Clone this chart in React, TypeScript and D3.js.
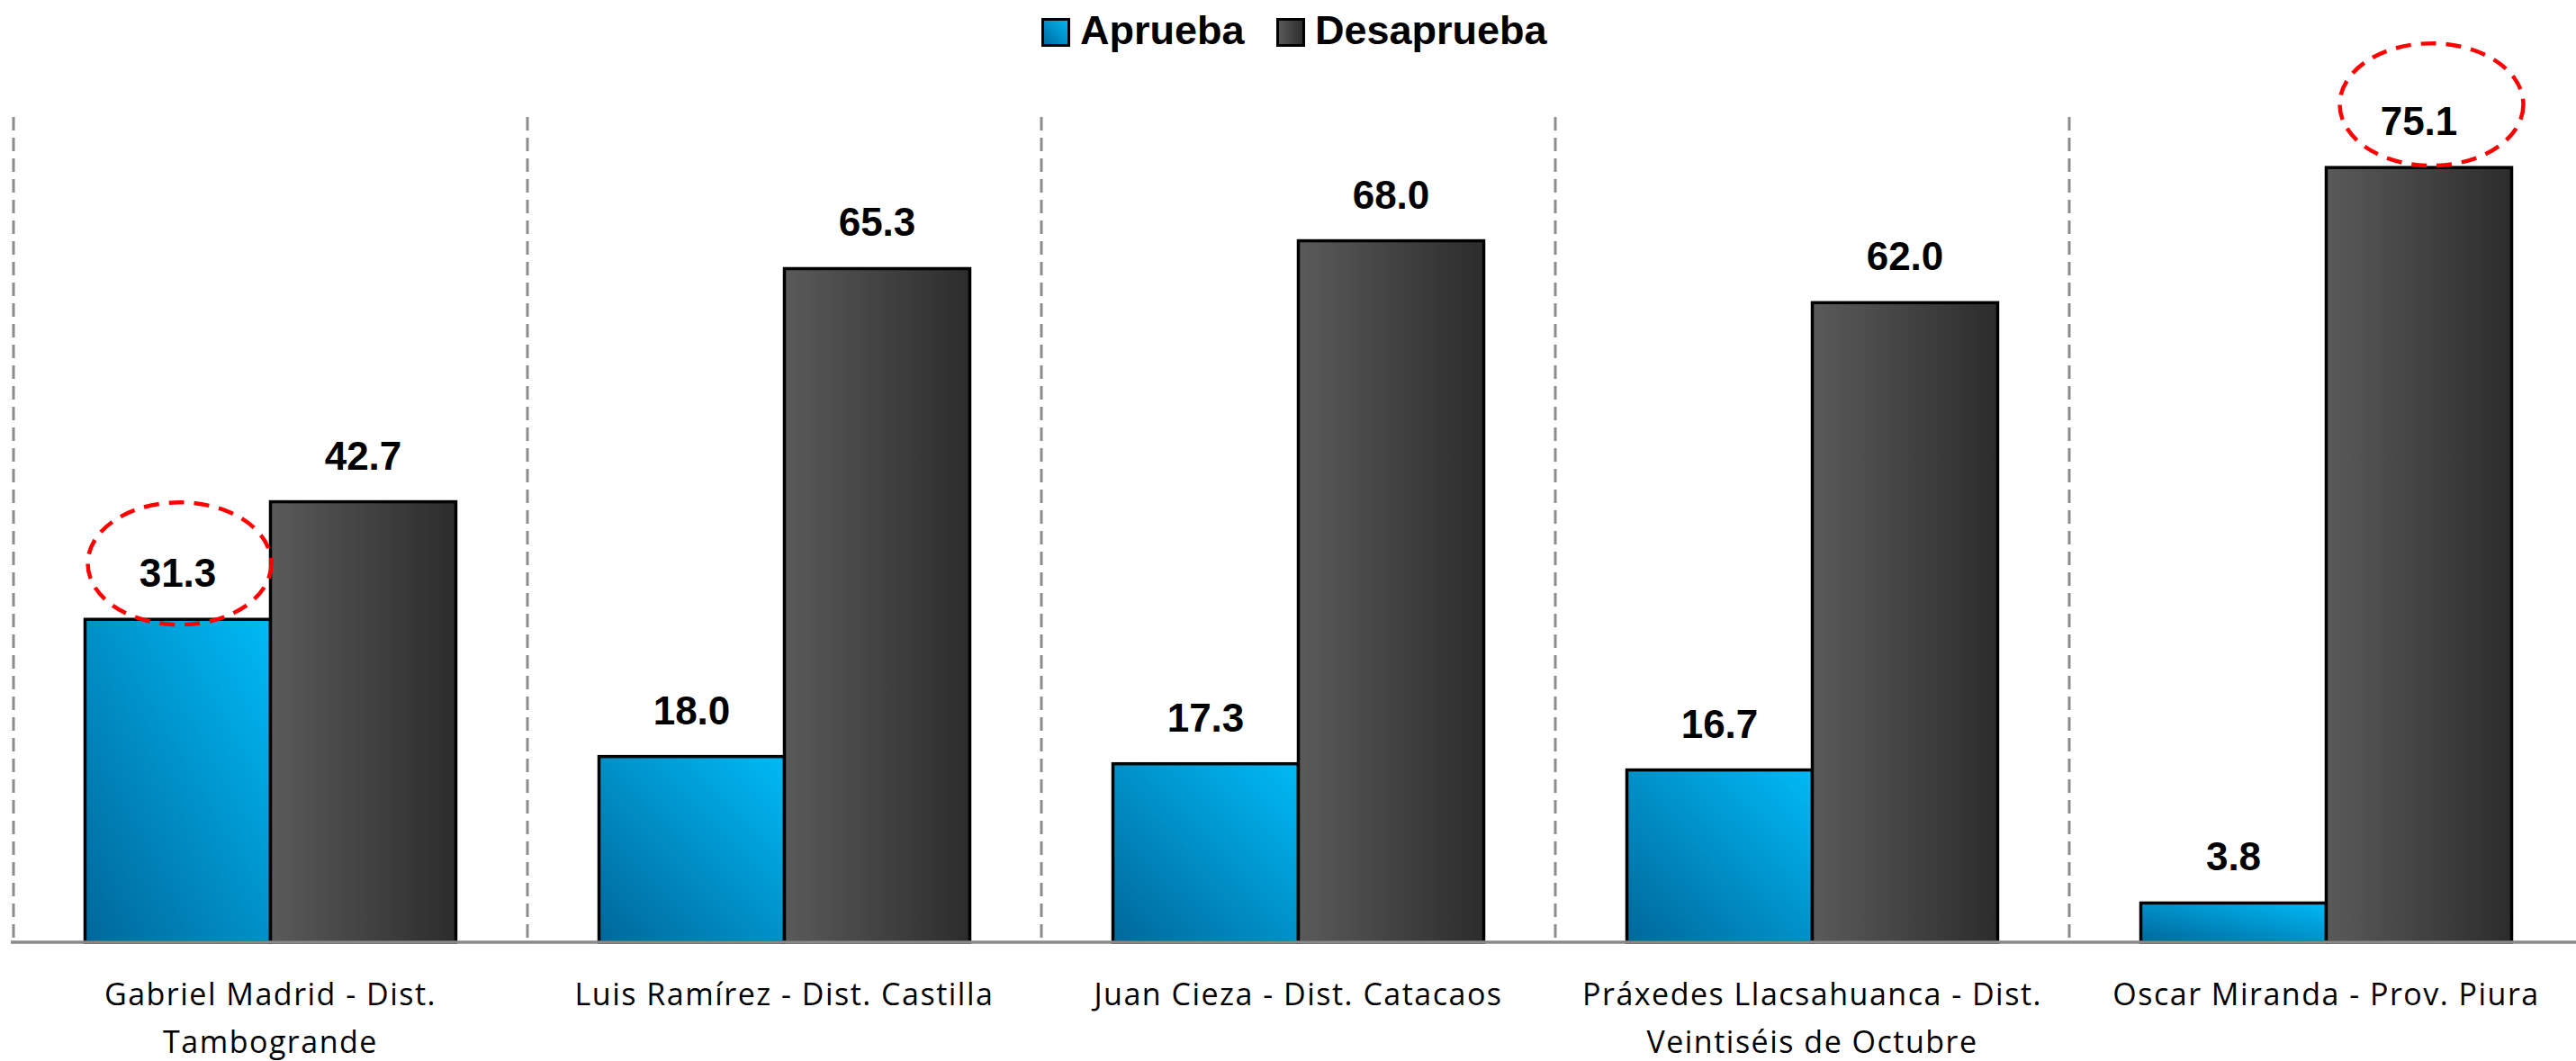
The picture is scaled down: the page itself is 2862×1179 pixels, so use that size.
import React, { useEffect, useRef } from "react";
import * as d3 from "d3";

const categories = [
  "Gabriel Madrid - Dist. Tambogrande",
  "Luis Ramírez - Dist. Castilla",
  "Juan Cieza - Dist. Catacaos",
  "Práxedes Llacsahuanca - Dist. Veintiséis de Octubre",
  "Oscar Miranda - Prov. Piura",
];

// wrapped the way the original chart wraps them
const categoryLines = [
  ["Gabriel Madrid - Dist.", "Tambogrande"],
  ["Luis Ramírez - Dist. Castilla"],
  ["Juan Cieza - Dist. Catacaos"],
  ["Práxedes Llacsahuanca - Dist.", "Veintiséis de Octubre"],
  ["Oscar Miranda - Prov. Piura"],
];

const series = ["Aprueba", "Desaprueba"];
const aprueba = [31.3, 18.0, 17.3, 16.7, 3.8];
const desaprueba = [42.7, 65.3, 68.0, 62.0, 75.1];

// values circled in red in the original
const highlights = [
  { serie: "Aprueba", index: 0, dx: 2, dy: -10 },
  { serie: "Desaprueba", index: 4, dx: 14, dy: -18 },
];

const W = 2862;
const H = 1179;

export default function App() {
  const ref = useRef<SVGSVGElement>(null);

  useEffect(() => {
    const svg = d3.select(ref.current);
    svg.selectAll("*").remove();

    const defs = svg.append("defs");
    const blue = defs
      .append("linearGradient")
      .attr("id", "gBlue")
      .attr("x1", 0)
      .attr("y1", 1)
      .attr("x2", 1)
      .attr("y2", 0);
    blue.append("stop").attr("offset", "0%").attr("stop-color", "#00679a");
    blue.append("stop").attr("offset", "100%").attr("stop-color", "#00baf6");
    const dark = defs
      .append("linearGradient")
      .attr("id", "gDark")
      .attr("x1", 0)
      .attr("y1", 0)
      .attr("x2", 1)
      .attr("y2", 0);
    dark.append("stop").attr("offset", "0%").attr("stop-color", "#5a5a5a");
    dark.append("stop").attr("offset", "100%").attr("stop-color", "#2c2c2c");

    const fills: Record<string, string> = {
      Aprueba: "url(#gBlue)",
      Desaprueba: "url(#gDark)",
    };
    const values: Record<string, number[]> = { Aprueba: aprueba, Desaprueba: desaprueba };

    const x0 = d3.scaleBand<string>().domain(categories).range([15, 2870]);
    const x1 = d3
      .scaleBand<string>()
      .domain(series)
      .range([0, x0.bandwidth()])
      .paddingOuter(0.386);
    const y = d3.scaleLinear().domain([0, 80]).range([1047, 130]);

    // dashed separators
    svg
      .append("g")
      .selectAll("line")
      .data(categories)
      .join("line")
      .attr("x1", (d) => x0(d)!)
      .attr("x2", (d) => x0(d)!)
      .attr("y1", y(80))
      .attr("y2", y(0))
      .attr("stroke", "#8c8c8c")
      .attr("stroke-width", 3)
      .attr("stroke-dasharray", "15 8");

    const groups = svg
      .append("g")
      .selectAll("g")
      .data(categories)
      .join("g")
      .attr("transform", (d) => `translate(${x0(d)},0)`);

    groups
      .selectAll("rect")
      .data((_, i) => series.map((s) => ({ s, v: values[s][i] })))
      .join("rect")
      .attr("x", (d) => x1(d.s)!)
      .attr("y", (d) => y(d.v))
      .attr("width", x1.bandwidth())
      .attr("height", (d) => y(0) - y(d.v))
      .attr("fill", (d) => fills[d.s])
      .attr("stroke", "#000")
      .attr("stroke-width", 3.5);

    groups
      .selectAll("text.val")
      .data((_, i) => series.map((s) => ({ s, v: values[s][i] })))
      .join("text")
      .attr("class", "val")
      .attr("x", (d) => x1(d.s)! + x1.bandwidth() / 2)
      .attr("y", (d) => y(d.v) - 36)
      .attr("text-anchor", "middle")
      .attr("font-family", "Liberation Sans, Arial, sans-serif")
      .attr("font-weight", "bold")
      .attr("font-size", 44)
      .attr("fill", "#000")
      .text((d) => d.v.toFixed(1));

    // x axis line
    svg
      .append("line")
      .attr("x1", 12)
      .attr("x2", W)
      .attr("y1", y(0))
      .attr("y2", y(0))
      .attr("stroke", "#898989")
      .attr("stroke-width", 3.5);

    // category labels
    const labels = svg
      .append("g")
      .selectAll("text")
      .data(categories)
      .join("text")
      .attr("x", (d) => x0(d)! + x0.bandwidth() / 2)
      .attr("y", 1117)
      .attr("text-anchor", "middle")
      .attr("font-family", "Open Sans, sans-serif")
      .attr("font-size", 34)
      .attr("letter-spacing", 1.5)
      .attr("fill", "#000");
    labels
      .selectAll("tspan")
      .data((_, i) => categoryLines[i])
      .join("tspan")
      .attr("x", function () {
        return (this.parentNode as SVGTextElement).getAttribute("x");
      })
      .attr("dy", (_, j) => (j === 0 ? 0 : 53))
      .text((d) => d);

    // red dashed ellipses
    svg
      .append("g")
      .selectAll("ellipse")
      .data(highlights)
      .join("ellipse")
      .attr("cx", (d) => x0(categories[d.index])! + x1(d.serie)! + x1.bandwidth() / 2 + d.dx)
      .attr("cy", (d) => y(values[d.serie][d.index]) - 36 - 16 + d.dy)
      .attr("rx", 102)
      .attr("ry", 68)
      .attr("fill", "none")
      .attr("stroke", "#ff0000")
      .attr("stroke-width", 4.5)
      .attr("stroke-dasharray", "17 11");

    // legend
    const legendX = [1157, 1418];
    const legend = svg
      .append("g")
      .selectAll("g")
      .data(series)
      .join("g")
      .attr("transform", (_, i) => `translate(${legendX[i]},0)`);
    legend
      .append("rect")
      .attr("x", 1.5)
      .attr("y", 21.5)
      .attr("width", 29)
      .attr("height", 29)
      .attr("fill", (d) => fills[d])
      .attr("stroke", "#000")
      .attr("stroke-width", 3);
    legend
      .append("text")
      .attr("x", 43)
      .attr("y", 49)
      .attr("font-family", "Liberation Sans, Arial, sans-serif")
      .attr("font-weight", "bold")
      .attr("font-size", 45)
      .attr("fill", "#000")
      .text((d) => d);
  }, []);

  return (
    <svg
      ref={ref}
      width={W}
      height={H}
      style={{ position: "absolute", left: 0, top: 0, background: "#fff" }}
    />
  );
}
